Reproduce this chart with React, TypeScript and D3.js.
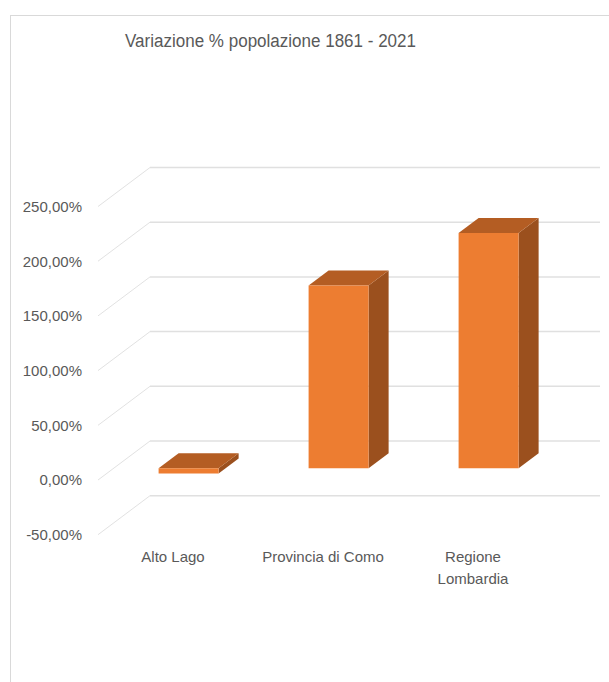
import React from "react";
import * as d3 from "d3";

const categories: string[][] = [["Alto Lago"], ["Provincia di Como"], ["Regione", "Lombardia"]];
const values: number[] = [-4.8, 167, 215];
const ticks: number[] = [-50, 0, 50, 100, 150, 200, 250];
const title = "Variazione % popolazione 1861 - 2021";

const fmt = (v: number) => d3.format(".2f")(v).replace(".", ",").replace("\u2212", "-") + "%";

export default function App() {
  const W = 609, H = 682;
  const x = d3.scaleBand<number>().domain(d3.range(values.length)).range([150, 600]);
  const y = d3.scaleLinear().domain([-50, 250]).range([495.7, 167.5]);
  const DX = -52, DY = 39; // full depth vector (back -> front)
  const tBack = 0.315, tFront = 0.7;
  const barFrac = 0.4;
  const text = "#595959";
  const font = "Arial, 'Liberation Sans', sans-serif";

  const pt = (px: number, py: number, t: number): [number, number] => [px + DX * t, py + DY * t];
  const poly = (pts: [number, number][]) => pts.map((p) => p.join(",")).join(" ");

  return (
    <svg width={W} height={H} style={{ position: "absolute", left: 0, top: 0, background: "#fff" }}>
      <rect x={10.5} y={15.5} width={700} height={700} fill="#fff" stroke="#d9d9d9" strokeWidth={1} />
      <text x={270.5} y={47} textAnchor="middle" fontFamily={font} fontSize={18} fill={text}
        textLength={291} lengthAdjust="spacingAndGlyphs">{title}</text>
      {ticks.map((t) => {
        const yy = y(t);
        const [fx, fy] = pt(150, yy, 1);
        return (
          <g key={t}>
            <line x1={150} y1={yy} x2={600} y2={yy} stroke="#e0e0e0" strokeWidth={1.5} />
            <line x1={150} y1={yy} x2={fx} y2={fy} stroke="#d9d9d9" strokeWidth={0.8} />
            <text x={82} y={fy} dy="0.36em" textAnchor="end" fontFamily={font} fontSize={15} fill={text}>{fmt(t)}</text>
          </g>
        );
      })}
      {values.map((v, i) => {
        const c = (x(i) as number) + x.bandwidth() / 2;
        const bw = x.bandwidth() * barFrac;
        const xl = c - bw / 2, xr = c + bw / 2;
        const yt = y(Math.max(v, 0)), yb = y(Math.min(v, 0));
        const fTL = pt(xl, yt, tFront), fTR = pt(xr, yt, tFront), fBR = pt(xr, yb, tFront), fBL = pt(xl, yb, tFront);
        const bTL = pt(xl, yt, tBack), bTR = pt(xr, yt, tBack), bBR = pt(xr, yb, tBack);
        return (
          <g key={i}>
            <polygon points={poly([fTR, bTR, bBR, fBR])} fill="#9B501E" />
            <polygon points={poly([fTL, bTL, bTR, fTR])} fill="#B45D23" />
            <polygon points={poly([fTL, fTR, fBR, fBL])} fill="#ED7D31" />
          </g>
        );
      })}
      {categories.map((lines, i) => {
        const c = (x(i) as number) + x.bandwidth() / 2 + DX;
        return (
          <text key={i} x={c} y={562} textAnchor="middle" fontFamily={font} fontSize={15} fill={text}>
            {lines.map((l, j) => (
              <tspan key={j} x={c} dy={j === 0 ? 0 : 21.6}>{l}</tspan>
            ))}
          </text>
        );
      })}
    </svg>
  );
}
